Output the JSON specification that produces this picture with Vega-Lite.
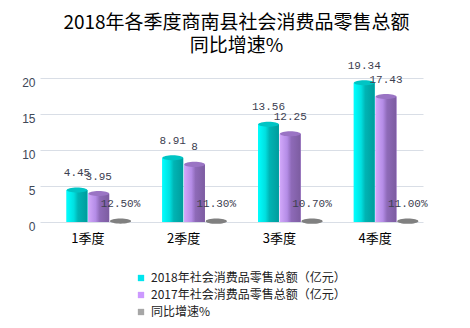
{
  "$schema": "https://vega.github.io/schema/vega-lite/v6.json",
  "width": 383,
  "height": 144,
  "autosize": {"type": "none"},
  "padding": {"left": 40, "top": 78, "right": 47, "bottom": 106},
  "background": "white",
  "title": {
    "text": ["2018年各季度商南县社会消费品零售总额", "同比增速%"],
    "font": "Noto Sans CJK SC",
    "fontSize": 19,
    "fontWeight": "normal",
    "color": "#000000",
    "anchor": "middle",
    "offset": 4,
    "lineHeight": 23,
    "dx": 5
  },
  "data": {
    "values": [
      {"q": "1季度", "s": "2018年社会消费品零售总额（亿元）", "v": 4.45, "label": "4.45"},
      {"q": "2季度", "s": "2018年社会消费品零售总额（亿元）", "v": 8.91, "label": "8.91"},
      {"q": "3季度", "s": "2018年社会消费品零售总额（亿元）", "v": 13.56, "label": "13.56"},
      {"q": "4季度", "s": "2018年社会消费品零售总额（亿元）", "v": 19.34, "label": "19.34"},
      {"q": "1季度", "s": "2017年社会消费品零售总额（亿元）", "v": 3.95, "label": "3.95"},
      {"q": "2季度", "s": "2017年社会消费品零售总额（亿元）", "v": 8, "label": "8"},
      {"q": "3季度", "s": "2017年社会消费品零售总额（亿元）", "v": 12.25, "label": "12.25"},
      {"q": "4季度", "s": "2017年社会消费品零售总额（亿元）", "v": 17.43, "label": "17.43"},
      {"q": "1季度", "s": "同比增速%", "v": 0.125, "label": "12.50%"},
      {"q": "2季度", "s": "同比增速%", "v": 0.113, "label": "11.30%"},
      {"q": "3季度", "s": "同比增速%", "v": 0.107, "label": "10.70%"},
      {"q": "4季度", "s": "同比增速%", "v": 0.11, "label": "11.00%"}
    ]
  },
  "encoding": {
    "x": {
      "field": "q",
      "type": "nominal",
      "sort": ["1季度", "2季度", "3季度", "4季度"],
      "scale": {"paddingInner": 0.1, "paddingOuter": 0.05},
      "axis": {
        "title": null,
        "domain": false,
        "ticks": false,
        "labelAngle": 0,
        "labelFont": "Noto Sans CJK SC",
        "labelFontSize": 13,
        "labelColor": "#000000",
        "labelPadding": 10
      }
    },
    "xOffset": {
      "field": "s",
      "type": "nominal",
      "scale": {
        "domain": ["pad", "2018年社会消费品零售总额（亿元）", "2017年社会消费品零售总额（亿元）", "同比增速%"],
        "paddingInner": 0.04,
        "paddingOuter": 0
      }
    },
    "y": {
      "field": "v",
      "type": "quantitative",
      "scale": {"domain": [0, 20], "nice": false},
      "axis": {
        "title": null,
        "values": [0, 5, 10, 15, 20],
        "domain": false,
        "ticks": false,
        "gridColor": "#D9DEE6",
        "gridWidth": 1,
        "labelFont": "Liberation Sans",
        "labelFontSize": 12,
        "labelColor": "#404858",
        "labelPadding": 5,
        "labelOffset": 4
      }
    }
  },
  "layer": [
    {
      "mark": {"type": "bar"},
      "encoding": {
        "color": {
          "field": "s",
          "type": "nominal",
          "scale": {
            "domain": ["2018年社会消费品零售总额（亿元）", "2017年社会消费品零售总额（亿元）", "同比增速%"],
            "range": ["#00E5EE", "#CC99FF", "#A6A6A6"]
          },
          "legend": {
            "orient": "none",
            "legendX": 95,
            "legendY": 194,
            "title": null,
            "symbolType": "square",
            "symbolSize": 40,
            "symbolStrokeWidth": 0,
            "labelFont": "Noto Sans CJK SC",
            "labelFontSize": 12,
            "labelColor": "#222222",
            "labelLimit": 320,
            "rowPadding": 5
          }
        }
      }
    },
    {
      "transform": [{"filter": "datum.s === '2018年社会消费品零售总额（亿元）'"}],
      "mark": {
        "type": "bar",
        "color": {
          "gradient": "linear", "x1": 0, "x2": 1, "y1": 0, "y2": 0,
          "stops": [
            {"offset": 0, "color": "#00FFFF"},
            {"offset": 0.35, "color": "#00E0E0"},
            {"offset": 0.55, "color": "#00B4B4"},
            {"offset": 1, "color": "#009C9C"}
          ]
        }
      }
    },
    {
      "transform": [{"filter": "datum.s === '2017年社会消费品零售总额（亿元）'"}],
      "mark": {
        "type": "bar",
        "color": {
          "gradient": "linear", "x1": 0, "x2": 1, "y1": 0, "y2": 0,
          "stops": [
            {"offset": 0, "color": "#D2A8FA"},
            {"offset": 0.35, "color": "#B48CE6"},
            {"offset": 0.55, "color": "#8E6AB8"},
            {"offset": 1, "color": "#7C5CA0"}
          ]
        }
      }
    },
    {
      "transform": [{"filter": "datum.s === '2018年社会消费品零售总额（亿元）'"}],
      "mark": {
        "type": "point",
        "filled": true,
        "opacity": 1,
        "shape": "M -1 0 A 1 0.25 0 1 0 1 0 A 1 0.25 0 1 0 -1 0 Z",
        "size": 420,
        "color": "#00C4C4"
      }
    },
    {
      "transform": [{"filter": "datum.s === '2017年社会消费品零售总额（亿元）'"}],
      "mark": {
        "type": "point",
        "filled": true,
        "opacity": 1,
        "shape": "M -1 0 A 1 0.25 0 1 0 1 0 A 1 0.25 0 1 0 -1 0 Z",
        "size": 420,
        "color": "#9A74C4"
      }
    },
    {
      "transform": [{"filter": "datum.s === '同比增速%'"}],
      "mark": {
        "type": "point",
        "filled": true,
        "opacity": 1,
        "shape": "M -1 0 A 1 0.25 0 1 0 1 0 A 1 0.25 0 1 0 -1 0 Z",
        "size": 440,
        "color": "#808080"
      }
    },
    {
      "mark": {
        "type": "text",
        "font": "Liberation Mono",
        "fontSize": 11,
        "color": "#3C4050",
        "baseline": "middle",
        "dy": -17
      },
      "encoding": {"text": {"field": "label"}}
    }
  ],
  "config": {"view": {"stroke": null}}
}
